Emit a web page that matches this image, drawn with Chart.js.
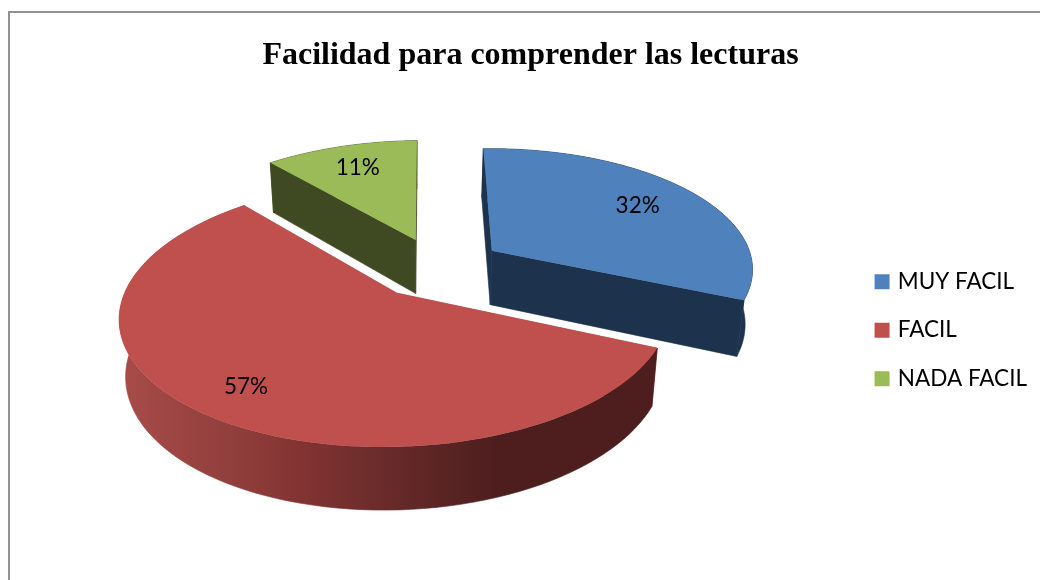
<!DOCTYPE html>
<html>
<head>
<meta charset="utf-8">
<style>
html,body{margin:0;padding:0;background:#fff;overflow:hidden;width:1040px;height:580px}
#wrap{position:absolute;left:0;top:0;width:1040px;height:580px}
#frame{position:absolute;left:8px;top:11px;width:1060px;height:600px;border-left:2px solid #939393;border-top:2px solid #939393;pointer-events:none}
</style>
<script src="https://cdn.jsdelivr.net/npm/chart.js@4"></script>
</head>
<body>
<div id="wrap"><canvas id="c" width="1040" height="580"></canvas></div>
<div id="frame"></div>
<script>
const titleText = "Facilidad para comprender las lecturas";
const categories = ["MUY FACIL", "FACIL", "NADA FACIL"];
const values = [32, 57, 11];
const explosion = [0.25, 0.25, 0.25];
const labelRadius = [0.73, 0.8, 0.75];
const topColors = ["#4F81BD", "#C0504D", "#9BBB59"];
const sideStops = [
  [[0, "#1D324D"], [1, "#1D324D"]],
  [[0, "#A84C49"], [0.23, "#8F3D3B"], [0.33, "#833432"], [0.51, "#662A29"], [0.7, "#4E1E1E"], [1, "#4E1E1E"]],
  [[0, "#3F4A22"], [1, "#3F4A22"]]
];
const drawOrder = [2, 0, 1];

/* Perspective view of the pie plane, unit = one pie radius */
const view = {x0: 397, y0: 293, a: 272, s: 130, h: 0.156, g: 0.006, sx: 3.5, ty: 4, ou: 0.152, on: 0.198, vx: 415, shrink: 0.022, depth: 56};
const OFFSET_UNIT = 40;

function project(u, n, z) {
  const U = u + view.ou, N = n + view.on;
  const w = 1 + view.h * N + view.g * U;
  let X = view.x0 + view.a * U / w + view.sx * N;
  let Y = view.y0 - (view.s * N + view.ty * U) / w;
  X = view.vx + (X - view.vx) * (1 - view.shrink * z);
  Y += z * view.depth * Math.pow(w, -0.7);
  return [X, Y];
}

function sliceGeom(el) {
  const p = el.getProps(["startAngle", "endAngle"], true);
  const e = el.options.offset / OFFSET_UNIT;
  const mid = (p.startAngle + p.endAngle) / 2;
  return {a0: p.startAngle, a1: p.endAngle, mid, cu: e * Math.cos(mid), cn: -e * Math.sin(mid)};
}

function rimPoints(g, z) {
  const pts = [];
  const N = 90;
  for (let i = 0; i <= N; i++) {
    const a = g.a0 + (g.a1 - g.a0) * i / N;
    pts.push(project(g.cu + Math.cos(a), g.cn - Math.sin(a), z));
  }
  return pts;
}

function poly(ctx, pts, fill, seam) {
  ctx.beginPath();
  pts.forEach((p, i) => i ? ctx.lineTo(p[0], p[1]) : ctx.moveTo(p[0], p[1]));
  ctx.closePath();
  ctx.fillStyle = fill;
  ctx.fill();
  if (seam) {
    ctx.strokeStyle = fill;
    ctx.lineWidth = 0.6;
    ctx.stroke();
  }
}

const pie3d = {
  id: "pie3d",
  beforeDatasetDraw(chart, args) {
    const ctx = chart.ctx;
    const arcs = chart.getDatasetMeta(args.index).data;
    ctx.save();
    drawOrder.forEach(i => {
      const g = sliceGeom(arcs[i]);
      const apexTop = project(g.cu, g.cn, 0), apexLow = project(g.cu, g.cn, 1);
      const rimTop = rimPoints(g, 0), rimLow = rimPoints(g, 1);
      const first = rimTop[0], last = rimTop[rimTop.length - 1];
      const firstLow = rimLow[0], lastLow = rimLow[rimLow.length - 1];
      const flat = sideStops[i][0][1];
      poly(ctx, [apexTop, first, firstLow, apexLow], flat, true);
      poly(ctx, [apexTop, last, lastLow, apexLow], flat, true);
      const xs = rimTop.concat(rimLow).map(p => p[0]);
      const minX = Math.min(...xs), maxX = Math.max(...xs);
      const grad = ctx.createLinearGradient(minX, 0, maxX, 0);
      sideStops[i].forEach(s => grad.addColorStop(s[0], s[1]));
      poly(ctx, rimTop.concat(rimLow.slice().reverse()), grad, true);
      poly(ctx, [apexTop].concat(rimTop), topColors[i], false);
    });
    ctx.fillStyle = "#000";
    ctx.font = "22.5px Lato";
    ctx.textAlign = "center";
    ctx.textBaseline = "middle";
    arcs.forEach((el, i) => {
      const g = sliceGeom(el);
      const r = labelRadius[i];
      const p = project(g.cu + r * Math.cos(g.mid), g.cn - r * Math.sin(g.mid), 0);
      ctx.fillText(values[i] + "%", p[0], p[1]);
    });
    ctx.restore();
    return false;
  }
};

new Chart(document.getElementById("c"), {
  type: "pie",
  data: {
    labels: categories,
    datasets: [{
      data: values,
      backgroundColor: topColors,
      borderColor: topColors,
      borderWidth: 6,
      offset: ctx => explosion[ctx.dataIndex] * OFFSET_UNIT
    }]
  },
  plugins: [pie3d],
  options: {
    responsive: false,
    animation: false,
    layout: {padding: {left: 24, right: 3, top: 0, bottom: 0}},
    plugins: {
      tooltip: {enabled: false},
      title: {
        display: true,
        text: titleText,
        color: "#000",
        font: {family: "'Liberation Serif'", size: 32, weight: "bold"},
        padding: {top: 37, bottom: 5}
      },
      legend: {
        position: "right",
        align: "center",
        fullSize: false,
        labels: {
          boxWidth: 9,
          boxHeight: 9,
          color: "#000",
          padding: 26,
          font: {family: "Lato", size: 22.5}
        }
      }
    }
  }
});
</script>
</body>
</html>
